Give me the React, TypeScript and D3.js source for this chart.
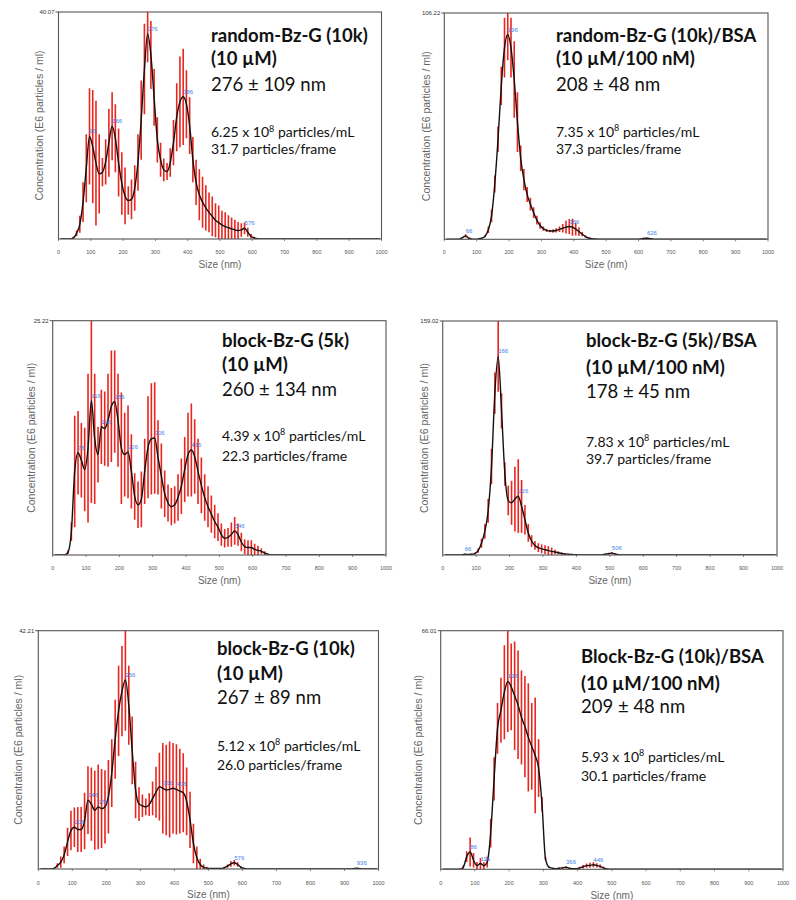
import React from 'react';
import * as d3 from 'd3';

// Size grid of the particle size distributions (nm)
const SIZE_GRID: number[] = d3.range(6, 1000, 10);

// --- random-Bz-G (10k) ---
const randomBzG10kMean = [0,0,0,0,0.2,1.0,2.6,6.5,12.5,18.1, 16.3,13.4,11.5,11.8,13.6,17.0,19.9,17.8,13.5,9.8, 7.6,6.8,7.0,9.0,13.5,21.0,30.0,36.2,32.5,25.0, 17.5,14.0,12.2,11.9,13.5,17.0,21.5,24.2,25.1,23.8, 20.0,14.0,10.0,7.8,6.5,5.5,4.7,4.0,3.3,2.9, 2.5,2.2,2.0,1.8,1.6,1.5,1.6,1.9,1.2,0.5, 0.2,0.05];
const randomBzG10kErr = [0,0,0,0,0.2,0.5,1.5,3.5,6,8.5, 10,11,7,2.5,4,6,6,6,6,5.5, 5,2.5,3.5,4,5,7,8,5,6,5, 4,3,2,1.5,2.5,4,6,8,8.5,6, 5,4,4,4.5,4.5,4,3.5,3.5,3,3, 2.5,2.5,2.2,2,1.8,1.5,1.2,1,0.8,0.4, 0.2,0];
const randomBzG10kPeaks = [96, 166, 276, 386, 576];

// --- random-Bz-G (10k)/BSA ---
const randomBzG10kBsaMean = [0,0,0,0,0.1,0.8,1.6,0.5,0.1,0.1, 0.2,0.5,1.5,4.5,11,26,47,72,90,96, 90,75,55,38,28,21,16.5,12.5,9,6.5, 5,4.2,3.9,3.9,4.2,4.7,5.2,5.7,6.0,5.7, 4.8,3.6,2.4,1.3,0.6,0.3,0.15,0.1,0.1,0.1, 0.1,0.1,0.1,0.1,0.1,0.1,0.1,0.1,0.1,0.1, 0.2,0.4,0.5,0.3,0.1];
const randomBzG10kBsaErr = [0,0,0,0,0,0.3,0.8,0.3,0,0, 0,0.2,0.5,1.5,3,4,6,9,14,12, 14,18,14,6,5,3.5,3,2.5,2,1.5, 1,0.8,0.6,0.8,1,1.3,2,3,3.5,4, 3,2,1,0.5,0.2,0.1,0,0,0,0, 0,0,0,0,0,0,0,0,0,0, 0.1,0.3,0.3,0.2,0];
const randomBzG10kBsaPeaks = [66, 196, 386, 626];

// --- block-Bz-G (5k) ---
const blockBzG5kMean = [0,0,0,0,0.3,2.5,9.0,11.0,10.2,9.2, 11.5,16.6,12.5,10.8,13.8,13.6,14.5,16.0,16.5,14.5, 11.5,10.8,11.1,9.0,6.3,5.4,6.0,9.0,11.6,12.5, 12.6,10.5,8.5,6.6,5.6,5.2,5.4,6.2,7.4,9.2, 10.8,11.3,10.6,9.0,7.5,6.2,5.2,4.4,3.6,3.0, 2.2,1.8,1.9,2.2,2.6,2.2,1.4,0.9,0.8,0.8, 0.6,0.5,0.4,0.2,0.1];
const blockBzG5kErr = [0,0,0,0,0.2,1,6,4.5,4,4.5, 8,11,7,3,4,4,5,6,5.5,5, 6,4.5,5,4,2.5,2.5,3,3.5,5.5,6, 6,4,3.5,2.5,2,2,2,2.5,3,3.5, 4.5,5,4,3.5,3,2.5,2.2,2,1.8,1.5, 1.2,1,1,1.3,1.5,1.2,1,0.8,0.8,0.8, 0.6,0.5,0.3,0.2,0];
const blockBzG5kPeaks = [76, 116, 146, 186, 226, 306, 416, 546];

// --- block-Bz-G (5k)/BSA ---
const blockBzG5kBsaMean = [0,0,0,0,0,0.1,0.5,0.4,0.5,1, 3,8,16,30,60,110,135,98,55,37, 35.5,38,40,33,24,15,9.5,6.5,5,4.2, 3.6,3,2.5,2,1.5,1,0.7,0.5,0.3,0.2, 0.1,0.1,0.1,0.1,0.1,0.1,0.1,0.1,0.5,0.9, 1.3,0.7,0.2,0];
const blockBzG5kBsaErr = [0,0,0,0,0,0,0.3,0.3,0.3,0.6, 1.5,3,5,8,12,14,24,12,8,10, 15,22,25,18,10,6,4,3,3,3, 3,3,2.5,1.5,1,0.8,0.5,0.3,0.2,0.1, 0,0,0,0,0,0,0,0,0.3,0.6, 0.8,0.5,0.2,0];
const blockBzG5kBsaPeaks = [66, 166, 226, 506];

// --- block-Bz-G (10k) ---
const blockBzG10kMean = [0,0,0,0,0.1,0.6,1.2,2.5,4.8,6.8, 7.4,7.0,7.0,8.5,12.2,11.5,10.4,11.0,10.7,11.0, 12.8,17,23,28,31.5,33.5,29,21,14,11.5, 11.2,11.0,11.4,12.5,13.6,14.6,14.3,14.0,14.1,14.3, 14.1,13.8,13.5,12,8.7,4.5,2.0,0.8,0.3,0.15, 0.1,0.1,0.1,0.1,0.2,0.5,0.9,1.1,0.8,0.3, 0.1,0,0,0,0,0,0,0,0,0, 0,0,0,0,0,0,0,0,0,0, 0,0,0,0,0,0,0,0,0,0, 0,0,0.05,0.15,0.05];
const blockBzG10kErr = [0,0,0,0,0.1,0.4,1,1.5,2.5,3.5, 3.5,4,4,5,6,6.5,7,7.5,7,6.5, 6.5,6,7,8,8,9,7,6,5,3, 2,1.5,2,3,4.5,6,8,8,8.5,8, 8,7.5,7,6,5,3.5,2,1,0.5,0.2, 0,0,0,0,0.2,0.3,0.5,0.5,0.4,0.2];
const blockBzG10kPeaks = [106, 146, 176, 256, 366, 406, 576, 936];

// --- Block-Bz-G (10k)/BSA ---
const blockBzG10kBsaMean = [0,0,0,0,0,0,0.6,3.5,4.8,2.5, 1.0,1.6,1.0,2,10,25,39,44,49,52, 50.5,48,45.5,42,39.5,36.5,34,31.5,28,18, 3,0.6,0.3,0.2,0.3,0.4,0.55,0.3,0.15,0.2, 0.4,0.7,1.0,1.1,1.25,1.1,0.8,0.4,0.1,0];
const blockBzG10kBsaErr = [0,0,0,0,0,0,0.5,1.5,4,2, 1,1.5,1,1.5,4,6,7,9,13,14, 12,15,15,13,14,15,12,16,8,2, 0.5,0.2,0,0,0.2,0.3,0.3,0.2,0,0, 0.3,0.5,0.6,0.7,0.7,0.6,0.5,0.3,0,0];
const blockBzG10kBsaPeaks = [86, 116, 196, 366, 446];

// Axis maxima printed at the top of each y axis
const Y_MAXIMA = [40.07, 106.22, 25.22, 159.02, 42.21, 66.01];

// Sample annotation text
const TITLES = [
  ['random-Bz-G (10k)', '(10 µM)'],
  ['random-Bz-G (10k)/BSA', '(10 µM/100 nM)'],
  ['block-Bz-G (5k)', '(10 µM)'],
  ['block-Bz-G (5k)/BSA', '(10 µM/100 nM)'],
  ['block-Bz-G (10k)', '(10 µM)'],
  ['Block-Bz-G (10k)/BSA', '(10 µM/100 nM)'],
];
const MEAN_SIZES = ['276 ± 109 nm', '208 ± 48 nm', '260 ± 134 nm', '178 ± 45 nm', '267 ± 89 nm', '209 ± 48 nm'];
const CONCENTRATIONS = ['6.25', '7.35', '4.39', '7.83', '5.12', '5.93'];
const PARTICLES_PER_FRAME = ['31.7', '37.3', '22.3', '39.7', '26.0', '30.1'];

const SERIES = [
  { mean: randomBzG10kMean, err: randomBzG10kErr, peaks: randomBzG10kPeaks },
  { mean: randomBzG10kBsaMean, err: randomBzG10kBsaErr, peaks: randomBzG10kBsaPeaks },
  { mean: blockBzG5kMean, err: blockBzG5kErr, peaks: blockBzG5kPeaks },
  { mean: blockBzG5kBsaMean, err: blockBzG5kBsaErr, peaks: blockBzG5kBsaPeaks },
  { mean: blockBzG10kMean, err: blockBzG10kErr, peaks: blockBzG10kPeaks },
  { mean: blockBzG10kBsaMean, err: blockBzG10kBsaErr, peaks: blockBzG10kBsaPeaks },
];

// Panel geometry
const LAYOUT = [
  { left: 58.5, right: 381.5, top: 12, bottom: 239, yTitleX: 43, tickY: 254, axisTitleY: 268, textX: 211, lineY: [42, 65, 91], smallY: [137, 154] },
  { left: 444.3, right: 768, top: 13, bottom: 239.3, yTitleX: 430, tickY: 254, axisTitleY: 268, textX: 556, lineY: [42, 65, 90.5], smallY: [136.5, 154] },
  { left: 52.7, right: 386, top: 320.7, bottom: 555, yTitleX: 35, tickY: 570, axisTitleY: 584, textX: 222, lineY: [347, 371, 395.5], smallY: [440.5, 460.5] },
  { left: 442.7, right: 777, top: 321, bottom: 555, yTitleX: 428, tickY: 570, axisTitleY: 584, textX: 586, lineY: [347, 374, 398], smallY: [446.5, 464] },
  { left: 38.3, right: 378.5, top: 630.7, bottom: 869, yTitleX: 22, tickY: 885, axisTitleY: 898, textX: 217, lineY: [655, 680, 704], smallY: [750.5, 770] },
  { left: 440.7, right: 783, top: 630.7, bottom: 869.3, yTitleX: 422, tickY: 885, axisTitleY: 899, textX: 581, lineY: [663, 690, 713], smallY: [761.5, 780.5] },
];

const TEXT_FONT = "Lato, 'Open Sans', sans-serif";
const AXIS_FONT = "'Liberation Sans', Arial, sans-serif";
const RED = '#e8261f';
const PEAK_BLUE = '#3f7fe6';

function Panel({ idx }: { idx: number }) {
  const l = LAYOUT[idx];
  const s = SERIES[idx];
  const yMax = Y_MAXIMA[idx];
  const x = d3.scaleLinear().domain([0, 1000]).range([l.left, l.right]);
  const y = d3.scaleLinear().domain([0, yMax]).range([l.bottom, l.top]);
  const pts: [number, number][] = SIZE_GRID.map((sz, i) => [sz, s.mean[i] ?? 0]);
  const line = d3
    .line<[number, number]>()
    .x((p) => x(p[0]))
    .y((p) => y(p[1]))
    .curve(d3.curveMonotoneX);
  const clipId = `plot-clip-${idx}`;
  const valueAt = (sz: number) => s.mean[SIZE_GRID.indexOf(sz)] ?? 0;
  const midY = (l.top + l.bottom) / 2;

  return (
    <g>
      <defs>
        <clipPath id={clipId}>
          <rect x={l.left} y={l.top} width={l.right - l.left} height={l.bottom - l.top} />
        </clipPath>
      </defs>
      <g clipPath={`url(#${clipId})`}>
        {s.err.map((e, i) =>
          e > 0 ? (
            <line
              key={i}
              x1={x(SIZE_GRID[i])}
              x2={x(SIZE_GRID[i])}
              y1={y(s.mean[i] - e)}
              y2={y(s.mean[i] + e)}
              stroke={RED}
              strokeWidth={1.6}
            />
          ) : null
        )}
        <path d={line(pts) ?? ''} fill="none" stroke="#111" strokeWidth={1.4} />
      </g>
      {s.peaks.map((p) => (
        <text
          key={p}
          x={x(p)}
          y={y(valueAt(p)) - 3}
          fontSize={6}
          fill={PEAK_BLUE}
          fontFamily={AXIS_FONT}
        >
          {p}
        </text>
      ))}
      <rect
        x={l.left}
        y={l.top}
        width={l.right - l.left}
        height={l.bottom - l.top}
        fill="none"
        stroke="#555"
        strokeWidth={1.1}
      />
      {/* y axis: only the maximum is marked */}
      <line x1={l.left - 3} x2={l.left} y1={l.top} y2={l.top} stroke="#555" strokeWidth={1} />
      <text
        x={l.left - 4}
        y={l.top + 2}
        fontSize={6}
        textAnchor="end"
        fill="#333"
        fontFamily={AXIS_FONT}
      >
        {yMax.toFixed(2)}
      </text>
      <text
        transform={`translate(${l.yTitleX},${midY}) rotate(-90)`}
        textAnchor="middle"
        fontSize={10.5}
        fill="#666"
        fontFamily={AXIS_FONT}
      >
        Concentration (E6 particles / ml)
      </text>
      {/* x axis */}
      {x.ticks(10).map((t) => (
        <g key={t}>
          <line x1={x(t)} x2={x(t)} y1={l.bottom} y2={l.bottom + 2} stroke="#666" strokeWidth={0.8} />
          <text
            x={x(t)}
            y={l.tickY}
            fontSize={5.5}
            textAnchor="middle"
            fill="#555"
            fontFamily={AXIS_FONT}
          >
            {t}
          </text>
        </g>
      ))}
      <text
        x={(l.left + l.right) / 2}
        y={l.axisTitleY}
        fontSize={10}
        textAnchor="middle"
        fill="#666"
        fontFamily={AXIS_FONT}
      >
        Size (nm)
      </text>
      {/* sample annotation */}
      <g fontFamily={TEXT_FONT} fill="#111">
        <text x={l.textX} y={l.lineY[0]} fontSize={18.5} fontWeight={700}>
          {TITLES[idx][0]}
        </text>
        <text x={l.textX} y={l.lineY[1]} fontSize={18.5} fontWeight={700}>
          {TITLES[idx][1]}
        </text>
        <text x={l.textX} y={l.lineY[2]} fontSize={18.5}>
          {MEAN_SIZES[idx]}
        </text>
        <text x={l.textX} y={l.smallY[0]} fontSize={14}>
          {CONCENTRATIONS[idx]} x 10
          <tspan fontSize={9} dy={-5.5}>8</tspan>
          <tspan dy={5.5}> particles/mL</tspan>
        </text>
        <text x={l.textX} y={l.smallY[1]} fontSize={14}>
          {PARTICLES_PER_FRAME[idx]} particles/frame
        </text>
      </g>
    </g>
  );
}

export default function App() {
  return (
    <svg
      width={796}
      height={900}
      viewBox="0 0 796 900"
      style={{ position: 'absolute', left: 0, top: 0, background: '#fff' }}
    >
      <rect width={796} height={900} fill="#fff" />
      {SERIES.map((_, i) => (
        <Panel key={i} idx={i} />
      ))}
    </svg>
  );
}
